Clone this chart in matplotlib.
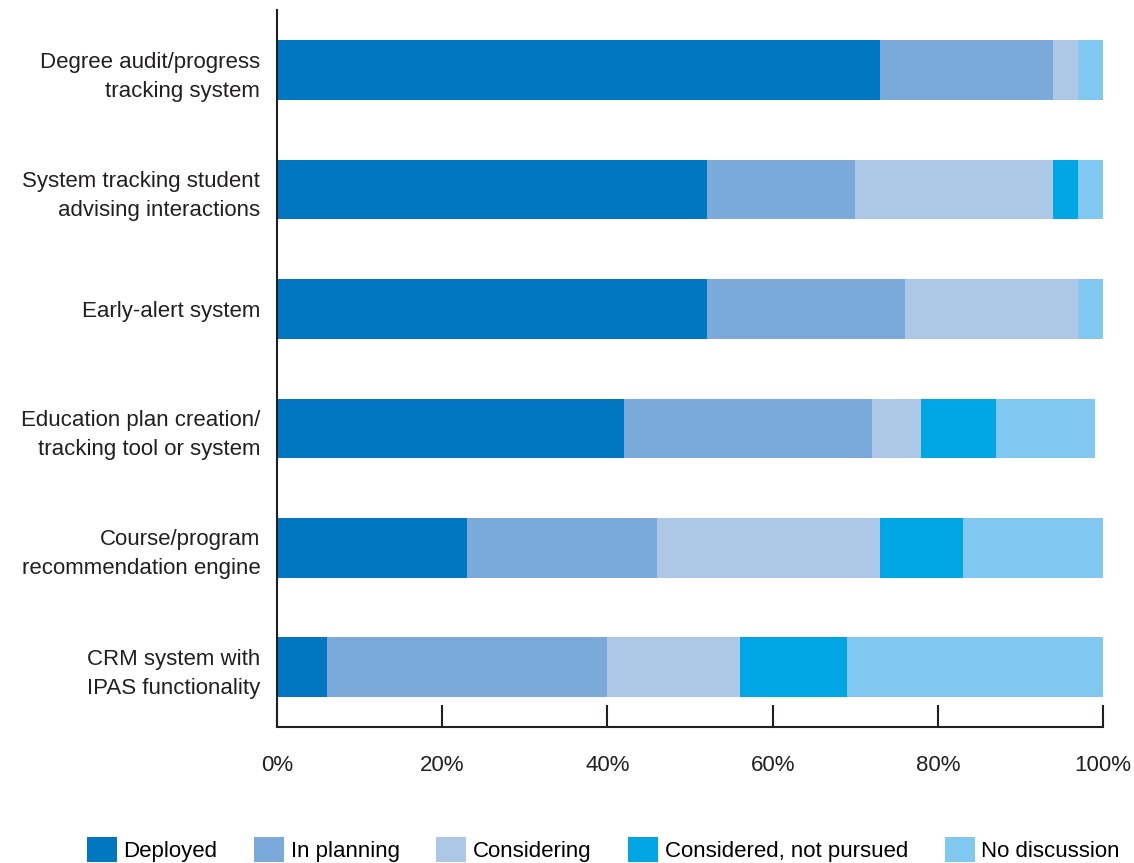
import numpy as np
import matplotlib.pyplot as plt
from matplotlib.patches import Patch

categories = ['Degree audit/progress\ntracking system',
              'System tracking student\nadvising interactions',
              'Early-alert system',
              'Education plan creation/\ntracking tool or system',
              'Course/program\nrecommendation engine',
              'CRM system with\nIPAS functionality']
series = ['Deployed', 'In planning', 'Considering', 'Considered, not pursued', 'No discussion']
deployed = [73, 52, 52, 42, 23, 6]
in_planning = [21, 18, 24, 30, 23, 34]
considering = [3, 24, 21, 6, 27, 16]
not_pursued = [0, 3, 0, 9, 10, 13]
no_discussion = [3, 3, 3, 12, 17, 31]
colors = ['#0077C0', '#7BAADA', '#ADC8E6', '#00A6E3', '#80C8F0']

plt.rcParams['font.family'] = ['Liberation Sans', 'DejaVu Sans']

fig = plt.figure(figsize=(11.34, 8.63), dpi=100)
ax = fig.add_axes([0.2443, 0.1576, 0.7284, 0.8304])

values = [deployed, in_planning, considering, not_pursued, no_discussion]
y = np.arange(len(categories))
left = np.zeros(len(categories))
for vals, col, name in zip(values, colors, series):
    ax.barh(y, vals, left=left, height=0.5, color=col, label=name)
    left += np.array(vals)

ax.set_ylim(len(categories) - 0.5, -0.5)
ax.set_xlim(0, 100)
ax.set_yticks(y)
ax.set_yticklabels(categories, fontsize=16, color='#231f20', linespacing=1.5)
ax.tick_params(axis='y', length=0, pad=12)
ax.set_xticks([0, 20, 40, 60, 80, 100])
ax.set_xticklabels(['0%', '20%', '40%', '60%', '80%', '100%'], fontsize=16, color='#231f20')
ax.tick_params(axis='x', direction='in', length=16, width=1.5, color='#231f20', pad=20)
for s in ['top', 'right']:
    ax.spines[s].set_visible(False)
for s in ['left', 'bottom']:
    ax.spines[s].set_linewidth(1.5)
    ax.spines[s].set_color('#231f20')

handles = [Patch(facecolor=c, label=n) for c, n in zip(colors, series)]
fig.legend(handles=handles, loc='lower center', bbox_to_anchor=(0.532, -0.022), ncol=5,
           frameon=False, fontsize=16, handlelength=1.35, handleheight=1.35,
           handletextpad=0.3, columnspacing=1.65)

fig.savefig('out.png', dpi=100)
